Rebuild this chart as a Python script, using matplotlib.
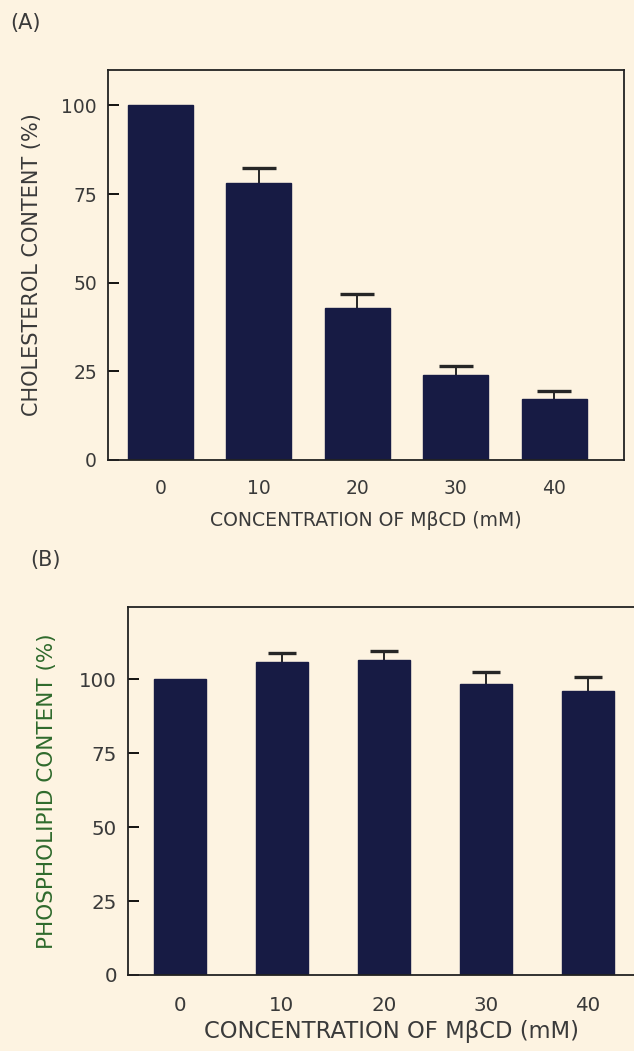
"""Cholesterol and phospholipid content after MbetaCD treatment."""
import matplotlib
matplotlib.use("Agg")
import matplotlib.pyplot as plt
import numpy as np

BG = "#fdf3e1"
BAR = "#171b44"
TEXT = "#3a3a3a"
GREEN = "#2f6a2c"

concentrations = ["0", "10", "20", "30", "40"]
cholesterol = [100, 78, 43, 24, 17.2]
cholesterol_err = [0, 4.3, 3.7, 2.6, 2.2]
phospholipid = [100, 106, 106.5, 98.3, 96]
phospholipid_err = [0, 3.0, 3.2, 4.2, 4.8]

plt.rcParams["font.family"] = ["DejaVu Sans"]

fig = plt.figure(figsize=(6.34, 10.51), dpi=100, facecolor=BG)
W, H = 634, 1051


def add_axes(left, top, right, bottom):
    return fig.add_axes([left / W, 1 - bottom / H, (right - left) / W, (bottom - top) / H])


def draw_panel(ax, values, errs, ylim, xlim, width, capsize, tick_fs, xlab_fs, ylab_fs,
               ylabel, ycolor, xpad, xlabelpad, ylab_x):
    x = np.arange(len(values))
    ax.set_facecolor(BG)
    ax.bar(x, values, width=width, color=BAR, edgecolor=BAR, zorder=2)
    # upper error only; the lower cap is hidden
    ex = x[1:]
    ev = np.array(values)[1:]
    _, caps, _ = ax.errorbar(ex, ev, yerr=[np.zeros(len(ex)), np.array(errs)[1:]],
                             fmt="none", ecolor="#262626", elinewidth=1.4,
                             capsize=capsize, capthick=2.4, zorder=1)
    for c in caps:
        if np.allclose(c.get_ydata(), ev):
            c.set_visible(False)
    ax.set_xlim(*xlim)
    ax.set_ylim(*ylim)
    ax.set_yticks([0, 25, 50, 75, 100])
    ax.set_xticks(x)
    ax.set_xticklabels(concentrations)
    ax.tick_params(axis="y", direction="in", length=8, width=1.3, labelsize=tick_fs,
                   labelcolor=TEXT, pad=8)
    ax.tick_params(axis="x", length=0, labelsize=tick_fs, labelcolor=TEXT, pad=xpad)
    for s in ax.spines.values():
        s.set_linewidth(1.3)
        s.set_color("#222222")
    ax.set_xlabel("CONCENTRATION OF M\u03b2CD (mM)", fontsize=xlab_fs, color=TEXT,
                  labelpad=xlabelpad)
    ax.set_ylabel(ylabel, fontsize=ylab_fs, color=ycolor)
    ax.yaxis.set_label_coords(ylab_x, 0.5)


ax_a = add_axes(108, 70, 624, 460)
draw_panel(ax_a, cholesterol, cholesterol_err, (0, 110), (-0.53, 4.71), 0.66, 12,
           13.5, 13.6, 15, "CHOLESTEROL CONTENT (%)", TEXT, 14, 9, -0.128)

ax_b = add_axes(128, 607, 654, 975)
draw_panel(ax_b, phospholipid, phospholipid_err, (0, 124.5), (-0.51, 4.65), 0.51, 10,
           14.3, 16.3, 15.5, "PHOSPHOLIPID CONTENT (%)", GREEN, 15, 4, -0.135)

fig.text(10 / W, 1 - 23 / H, "(A)", fontsize=15, color=TEXT, va="center", ha="left")
fig.text(30 / W, 1 - 560 / H, "(B)", fontsize=15, color=TEXT, va="center", ha="left")

fig.savefig("out.png", dpi=100, facecolor=BG)
